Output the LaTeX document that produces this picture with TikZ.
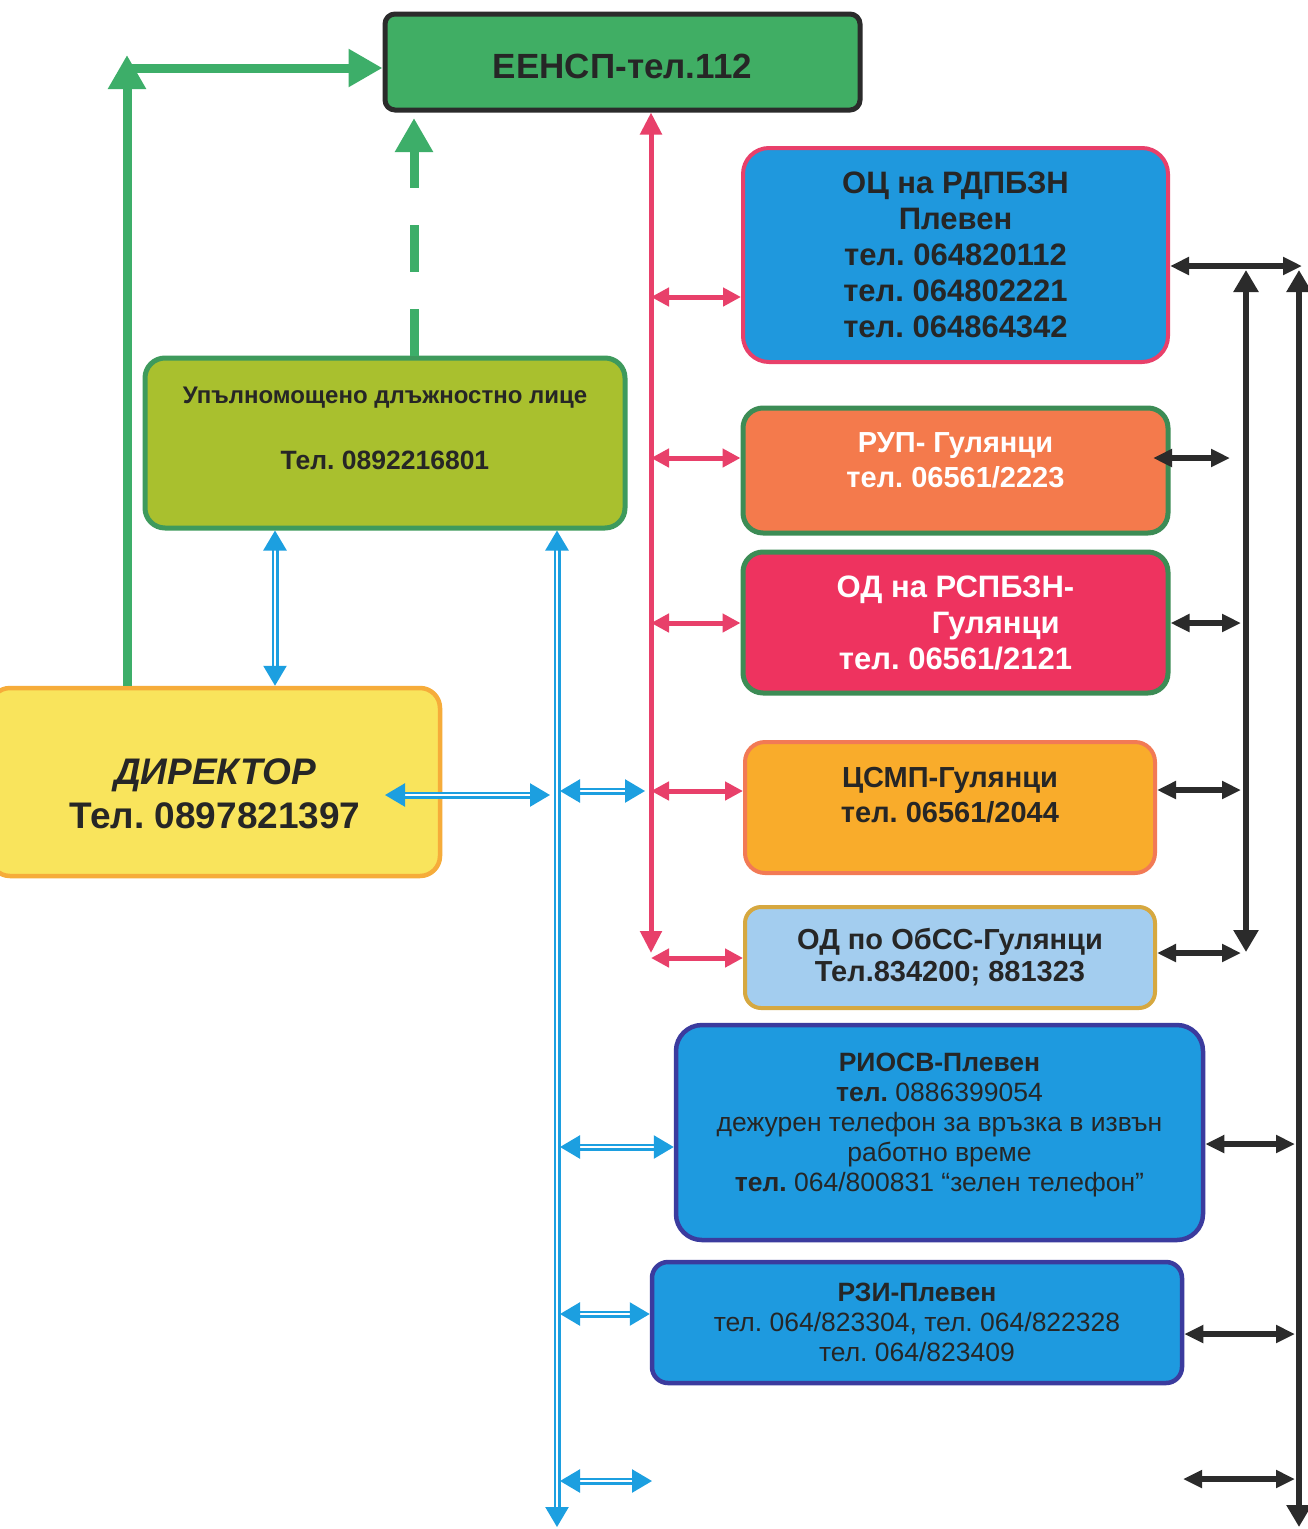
\documentclass[tikz,border=0pt]{standalone}
\usepackage{fontspec}
\setmainfont{Liberation Sans}
\usetikzlibrary{arrows.meta}
\frenchspacing
\definecolor{txt}{HTML}{262626}
\definecolor{grn}{HTML}{3DAE69}
\definecolor{eenspfill}{HTML}{40AE64}
\definecolor{pnk}{HTML}{E8406A}
\definecolor{blu}{HTML}{1C9FE0}
\definecolor{blk}{HTML}{2B2B2B}
\definecolor{ocfill}{HTML}{1F98DD}
\definecolor{rupfill}{HTML}{F47A4C}
\definecolor{boxgreen}{HTML}{3C8C55}
\definecolor{odfill}{HTML}{EE335F}
\definecolor{csmpfill}{HTML}{F9AC2B}
\definecolor{csmpline}{HTML}{F27A55}
\definecolor{obssfill}{HTML}{A3CDEF}
\definecolor{obssline}{HTML}{D6A840}
\definecolor{riofill}{HTML}{1E9ADF}
\definecolor{rioline}{HTML}{3B3B9E}
\definecolor{uplfill}{HTML}{A9C02E}
\definecolor{uplline}{HTML}{3E9A5C}
\definecolor{dirfill}{HTML}{F9E45C}
\definecolor{dirline}{HTML}{F6AC3A}
\newcommand\myfs[2]{\fontsize{#1}{#2}\selectfont}
\begin{document}
\frenchspacing
\begin{tikzpicture}[x=1pt,y=-1pt,
  box/.style={draw, rounded corners=20pt, inner sep=0pt, align=center, text=txt},
  grnline/.style={draw=grn, line width=9pt},
  gtip/.style={-{Triangle[length=34pt,width=36pt]}},
  pk/.style={draw=pnk, line width=5pt, {Triangle[length=18pt,width=18pt]}-{Triangle[length=18pt,width=18pt]}},
  pkv/.style={draw=pnk, line width=5pt, {Triangle[length=22pt,width=21pt]}-{Triangle[length=22pt,width=21pt]}},
  bl/.style={draw=blu, double=white, double distance=2pt, line width=2.5pt, {Triangle[length=20pt,width=23pt]}-{Triangle[length=20pt,width=23pt]}},
  bk/.style={draw=blk, line width=5.5pt, {Triangle[length=19pt,width=17pt]}-{Triangle[length=19pt,width=17pt]}},
  bkv/.style={draw=blk, line width=5.5pt, {Triangle[length=22pt,width=24pt]}-{Triangle[length=22pt,width=24pt]}}
]
\useasboundingbox (0,0) rectangle (1307,1529);
\fill[white] (0,0) rectangle (1307,1529);

% boxes
\node[box, rounded corners=10pt, draw=blk, line width=5pt, fill=eenspfill, minimum width=475pt, minimum height=96pt, font=\bfseries\myfs{35}{40}]
  (eensp) at (622.5,62) {\rule{0pt}{34pt}ЕЕНСП-тел.112};
\node[box, rounded corners=26pt, draw=pnk, line width=4pt, fill=ocfill, minimum width=425pt, minimum height=214pt, font=\bfseries\myfs{31}{36}]
  (oc) at (955.5,255) {ОЦ на РДПБЗН\\Плевен\\тел. 064820112\\тел. 064802221\\тел. 064864342};
\node[box, draw=boxgreen, line width=5pt, fill=rupfill, minimum width=425pt, minimum height=125pt, text=white, font=\bfseries\myfs{29}{35}]
  (rup) at (955.5,470.5) {РУП- Гулянци\\тел. 06561/2223\rule[-20pt]{0pt}{0pt}};
\node[box, draw=boxgreen, line width=5pt, fill=odfill, minimum width=425pt, minimum height=141pt, text=white, font=\bfseries\myfs{31}{36}]
  (od) at (955.5,622.5) {ОД на РСПБЗН-\\\hspace*{2.6em}Гулянци\\тел. 06561/2121};
\node[box, draw=csmpline, line width=4pt, fill=csmpfill, minimum width=410pt, minimum height=131pt, font=\bfseries\myfs{29}{35}]
  (csmp) at (950,807.5) {ЦСМП-Гулянци\\тел. 06561/2044\rule[-26pt]{0pt}{0pt}};
\node[box, rounded corners=16pt, draw=obssline, line width=4pt, fill=obssfill, minimum width=410pt, minimum height=101pt, font=\bfseries\myfs{29}{32}]
  (obss) at (950,957.5) {ОД по ОбСС-Гулянци\\Тел.834200; 881323};
\node[box, rounded corners=26pt, draw=rioline, line width=4.5pt, fill=riofill, minimum width=527pt, minimum height=215pt, font=\myfs{26.5}{30}]
  (riosv) at (939.5,1132.5) {\textbf{РИОСВ-Плевен}\\\textbf{тел.} 0886399054\\дежурен телефон за връзка в извън\\работно време\\\textbf{тел.} 064/800831 “зелен телефон”\rule[-20pt]{0pt}{0pt}};
\node[box, rounded corners=16pt, draw=rioline, line width=4.5pt, fill=riofill, minimum width=530pt, minimum height=121pt, font=\myfs{26.5}{30}]
  (rzi) at (917,1322.5) {\textbf{РЗИ-Плевен}\\тел. 064/823304, тел. 064/822328\\тел. 064/823409};
\node[box, draw=uplline, line width=5pt, fill=uplfill, minimum width=480pt, minimum height=170pt, font=\bfseries]
  (upl) at (385,443) {{\myfs{24}{28}Упълномощено длъжностно лице}\\[42pt]{\myfs{26.5}{30}Тел. 0892216801}\rule[-30pt]{0pt}{0pt}};
\node[box, draw=dirline, line width=4.5pt, fill=dirfill, minimum width=450pt, minimum height=188pt, font=\bfseries\myfs{37}{44}]
  (dir) at (215,782) {\rule{0pt}{50pt}\textit{ДИРЕКТОР}\\Тел. 0897821397};

% green connectors
\coordinate (gtop) at (127,55);
\coordinate (gcorner) at (127,68);
\draw[grnline, gtip] (gtop |- dir.north) -- (gtop);
\draw[grnline, gtip] (gcorner) -- (gcorner -| eensp.west);
\coordinate (dtip) at (414,118);
\draw[grnline, gtip, dash pattern=on 47pt off 37pt] (dtip |- upl.north) -- (dtip);

% pink connectors
\coordinate (pkx) at (651,0);
\coordinate (pkbot) at (651,953);
\draw[pkv] (pkx |- eensp.south) -- (pkbot);
\draw[pk] (pkx |- 0,297) -- (oc.west |- 0,297);
\draw[pk] (pkx |- 0,458) -- (rup.west |- 0,458);
\draw[pk] (pkx |- 0,623) -- (od.west |- 0,623);
\draw[pk] (pkx |- 0,791) -- (csmp.west |- 0,791);
\draw[pk] (pkx |- 0,958) -- (obss.west |- 0,958);

% blue connectors
\coordinate (bx) at (557,0);
\coordinate (bbot) at (557,1527);
\draw[bl] (bx |- upl.south) -- (bbot);
\draw[bl] (275,0 |- upl.south) -- (275,0 |- dir.north);
\coordinate (dirarr) at (385,795);
\coordinate (bxl) at (550,795);
\draw[bl] (dirarr) -- (bxl);
\coordinate (bxr) at (560,791);
\coordinate (pkl) at (645,791);
\draw[bl] (bxr) -- (pkl);
\draw[bl] (560,1147) -- (riosv.west |- 0,1147);
\draw[bl] (560,1314) -- (rzi.west |- 0,1314);
\coordinate (bfree) at (652,1481);
\draw[bl] (560,1481) -- (bfree);

% black connectors
\coordinate (bko) at (1299,270);
\coordinate (bkob) at (1299,1527);
\coordinate (bki) at (1246,270);
\coordinate (bkib) at (1246,952);
\draw[bkv] (bkob) -- (bko);
\draw[bkv] (bkib) -- (bki);
\draw[bk] (oc.east |- 0,266) -- (1302,266);
\coordinate (rupin) at (1153,458);
\draw[bk] (rupin) -- (1230,458);
\draw[bk] (od.east |- 0,623) -- (1241,623);
\draw[bk] (csmp.east |- 0,790) -- (1241,790);
\draw[bk] (obss.east |- 0,953) -- (1241,953);
\draw[bk] (riosv.east |- 0,1144) -- (1295,1144);
\draw[bk] (rzi.east |- 0,1334) -- (1295,1334);
\coordinate (bkfree) at (1183,1479);
\draw[bk] (bkfree) -- (1295,1479);
\end{tikzpicture}
\end{document}
